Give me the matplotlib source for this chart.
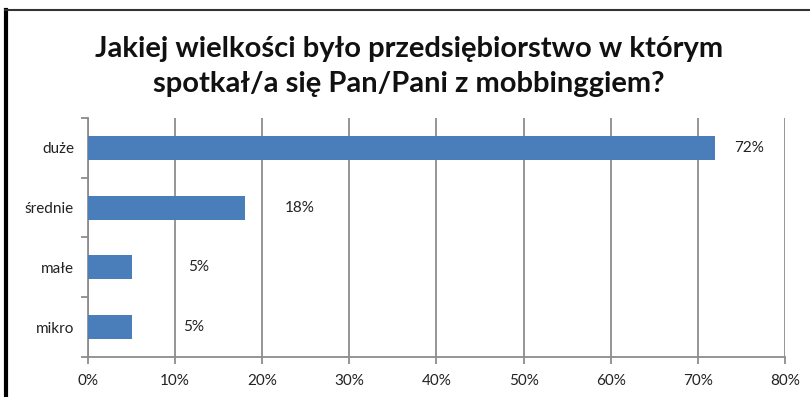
import matplotlib.pyplot as plt
import numpy as np
from matplotlib.lines import Line2D

# Data
categories = ["duże", "średnie", "małe", "mikro"]
values = [72, 18, 5, 5]
label_x = [75.9, 24.3, 12.7, 12.1]  # where Excel put the data labels
x_ticks = [0, 10, 20, 30, 40, 50, 60, 70, 80]

title = "Jakiej wielkości było przedsiębiorstwo w którym\nspotkał/a się Pan/Pani z mobbinggiem?"

plt.rcParams['font.family'] = ['Lato', 'DejaVu Sans']

fig = plt.figure(figsize=(8.1, 3.97), dpi=100)
ax = fig.add_axes([0.1086, 0.1008, 0.8605, 0.602])

grid_col = "#8c8c8c"
bar_col = "#4a7ebb"

y = np.arange(len(categories))[::-1]
ax.barh(y, values, height=0.4, color=bar_col, zorder=3)

for yi, v, lx in zip(y, values, label_x):
    ax.text(lx, yi, f"{v}%", ha="center", va="center", fontsize=11, color="#222222")

ax.set_xlim(0, 80)
ax.set_ylim(-0.5, len(categories) - 0.5)
ax.set_xticks(x_ticks)
ax.set_xticklabels([f"{t}%" for t in x_ticks], fontsize=11, color="#222222")
ax.set_yticks(y)
ax.set_yticklabels(categories, fontsize=11, color="#222222")
ax.tick_params(axis="y", length=0, pad=10)
ax.tick_params(axis="x", length=5, color=grid_col, width=1.3, pad=7)

# category boundary ticks on the y axis
ax.set_yticks(np.arange(-0.5, len(categories), 1.0), minor=True)
ax.tick_params(axis="y", which="minor", length=5, color=grid_col, width=1.3)

ax.grid(axis="x", color=grid_col, linewidth=1.3, zorder=0)
for s in ["top", "right"]:
    ax.spines[s].set_visible(False)
for s in ["left", "bottom"]:
    ax.spines[s].set_color(grid_col)
    ax.spines[s].set_linewidth(1.3)

fig.text(0.505, 0.833, title, ha="center", va="center", fontsize=21,
         fontweight="bold", linespacing=1.45, color="#111111")

# outer frame (left and top edges visible in the scan)
fig.add_artist(Line2D([0.008, 0.008], [0.0, 0.975], color="black", linewidth=3))
fig.add_artist(Line2D([0.006, 1.0], [0.975, 0.975], color="#333333", linewidth=1.5))

fig.savefig("out.png", dpi=100)
